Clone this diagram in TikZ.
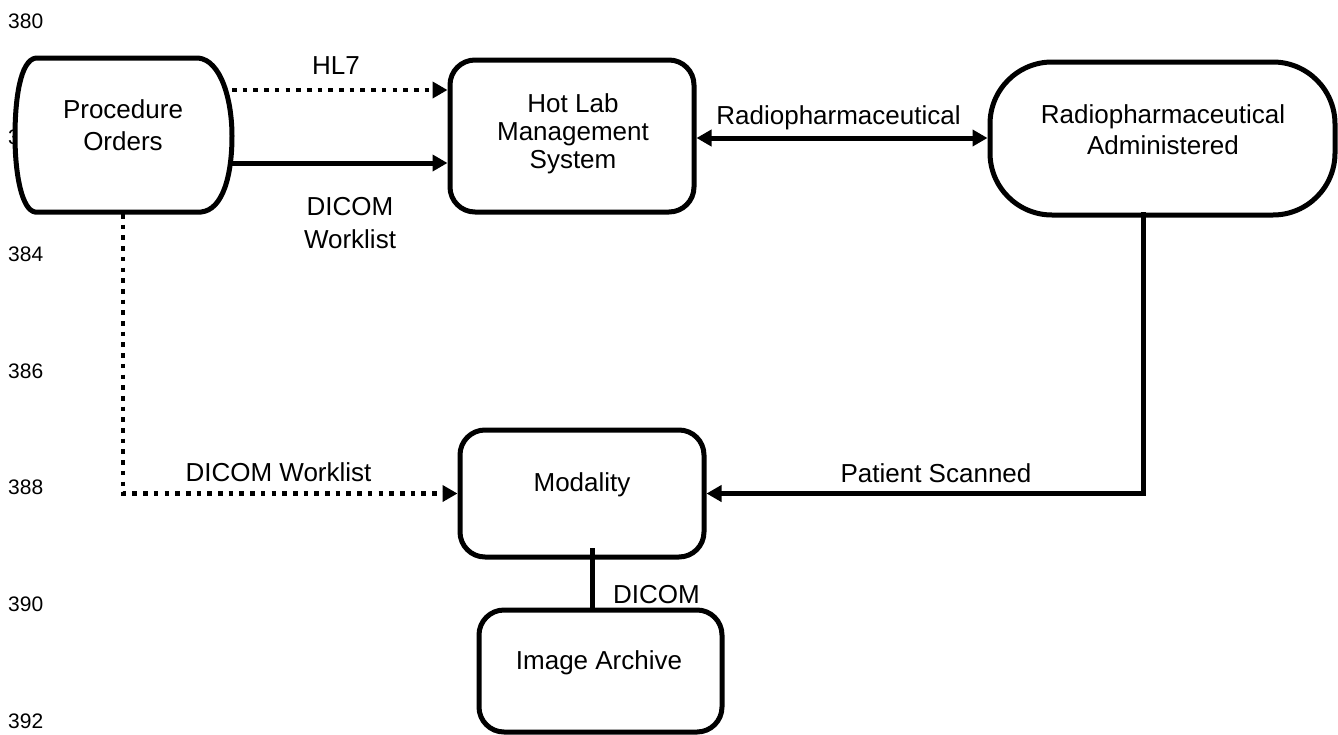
\documentclass[tikz,border=0pt]{standalone}
\usepackage{fontspec}
\setmainfont{Liberation Sans}
\usetikzlibrary{arrows.meta}
\begin{document}
\begin{tikzpicture}[x=1pt,y=-1pt,
  box/.style={draw, line width=5pt, rounded corners=25pt, fill=white, inner sep=0pt},
  txt/.style={font=\fontsize{26}{32}\selectfont, align=center, inner sep=0pt},
  lbl/.style={font=\fontsize{26}{33}\selectfont, align=center, inner sep=0pt},
  lineno/.style={font=\fontsize{21}{25}\selectfont, anchor=base west, inner sep=0pt},
  tip/.style={-{Triangle[length=15pt,width=16pt]}},
  flow/.style={line width=5pt, tip},
  dotflow/.style={line width=4.6pt, dash pattern=on 4.6pt off 6.1pt, tip},
]
\useasboundingbox (0,0) rectangle (1338,734);

% line numbers down the left margin
\foreach \n [count=\i from 0] in {380,382,384,386,388,390,392}
  \node[lineno] (ln\n) at (8, 28+116.7*\i) {\n};

% Procedure Orders: flat top and bottom, bulging sides
\draw[line width=5pt, fill=white]
  (36,58) -- (198,58)
  .. controls (221,60) and (232,100) .. (232,136)
  .. controls (232,175) and (223,210) .. (201,212)
  -- (35,212)
  .. controls (22,210) and (15,175) .. (15,136)
  .. controls (15,100) and (20,60) .. (36,58) -- cycle;
\node[txt] (po) at (123,125.5) {Procedure\\Orders};
\coordinate (po-e1) at (232,90);
\coordinate (po-e2) at (232,163);
\coordinate (po-s) at (123,214);

% Hot Lab Management System
\node[box, minimum width=244pt, minimum height=152pt] (hl) at (572,136) {};
\node[txt, font=\fontsize{26}{28}\selectfont] (hl-t) at (573,133.75) {Hot Lab\\Management\\System};

% Radiopharmaceutical Administered (stadium)
\node[box, rounded corners=62pt, minimum width=345pt, minimum height=153pt] (ra) at (1162.5,138.5) {};
\node[txt, font=\fontsize{26}{31}\selectfont] (ra-t) at (1163,129.5) {Radiopharmaceutical\\Administered};
\coordinate (ra-s) at (1143,212);

% Modality
\node[box, minimum width=244pt, minimum height=127pt] (mo) at (582,493.5) {};
\node[txt] (mo-t) at (582,484.75) {Modality};
\coordinate (mo-b) at (592,548);

% Image Archive
\node[box, minimum width=243pt, minimum height=122pt] (ia) at (600.5,671) {};
\node[txt] (ia-t) at (599,662.75) {Image Archive};

% connectors
\coordinate (hr) at (0,138);
\draw[dotflow] (po-e1) -- (po-e1 -| hl.west);
\draw[flow] (po-e2) -- (po-e2 -| hl.west);
\draw[line width=5pt, {Triangle[length=15pt,width=16pt]}-{Triangle[length=15pt,width=16pt]}]
  (hl.east |- hr) -- (ra.west |- hr);
\draw[flow] (ra-s) |- (mo.east);
\draw[dotflow] (po-s) |- (mo.west);
\draw[line width=5pt] (mo-b) -- (mo-b |- ia.north);

% connector labels
\node[lbl, anchor=base] (l-hl7) at (336,74) {HL7};
\node[lbl] (l-dw1) at (350,223) {DICOM\\Worklist};
\node[lbl, anchor=base] (l-rp) at (838.5,124) {Radiopharmaceutical};
\node[lbl, anchor=base] (l-ps) at (936,482) {Patient Scanned};
\node[lbl, anchor=base] (l-dw2) at (278.5,481) {DICOM Worklist};
\node[lbl, anchor=base] (l-dc) at (656.5,603) {DICOM};
\end{tikzpicture}
\end{document}
